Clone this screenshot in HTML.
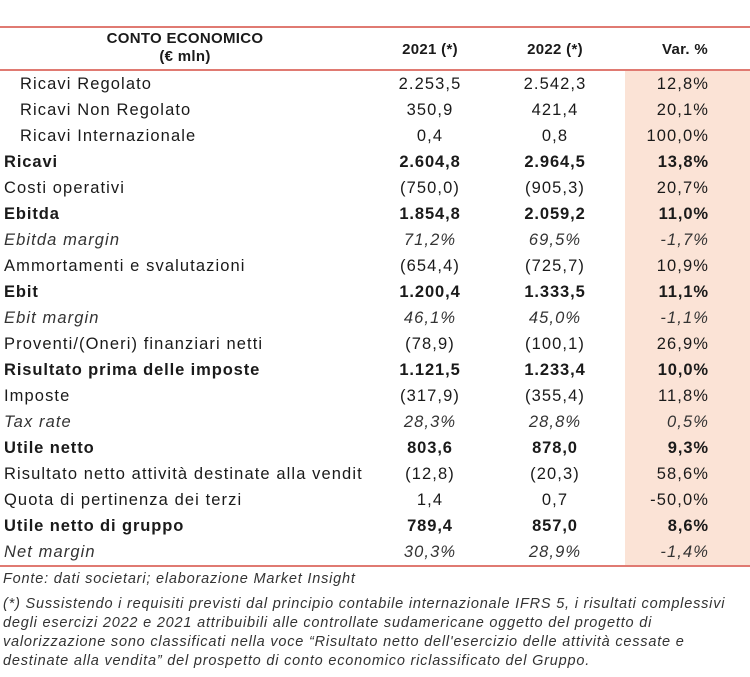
<!DOCTYPE html>
<html><head><meta charset="utf-8"><style>
body{margin:0;width:750px;height:677px;background:#fff;font-family:"Liberation Sans",sans-serif;color:#1a1a1a;position:relative;overflow:hidden}
.shade{position:absolute;left:625px;top:70px;width:125px;height:495px;background:#fbe3d6}
.line{position:absolute;left:0;width:750px;height:2px;background:#e07a72}
.hdr{position:absolute;top:30px;font-weight:bold;font-size:15px;text-align:center;letter-spacing:0.3px}
.row{position:absolute;left:0;width:750px;height:26px;font-size:16.5px;line-height:26px;letter-spacing:1.1px}
.row span{position:absolute;top:0;white-space:nowrap}
.l{left:4px}.l.ind{left:20px}
.c1{left:380px;width:100px;text-align:center}
.c2{left:505px;width:100px;text-align:center}
.c3{right:41px;text-align:right}
.b{font-weight:bold;letter-spacing:0.9px}.i{font-style:italic;color:#333}
.foot{position:absolute;left:3px;font-style:italic;font-size:14.5px;color:#333;line-height:19px;letter-spacing:0.8px;white-space:nowrap}
</style></head><body>
<div class="shade"></div>
<div class="line" style="top:26px"></div>
<div class="line" style="top:69px"></div>
<div class="line" style="top:565px"></div>
<div class="hdr" style="left:60px;width:250px;line-height:18px">CONTO ECONOMICO<br>(€ mln)</div>
<div class="hdr" style="left:380px;width:100px;top:41px">2021 (*)</div>
<div class="hdr" style="left:505px;width:100px;top:41px">2022 (*)</div>
<div class="hdr" style="left:640px;width:90px;top:41px">Var. %</div>
<div id="rows"></div>
<div class="foot" style="top:570px">Fonte: dati societari; elaborazione Market Insight</div>
<div class="foot" style="top:595px">(*) Sussistendo i requisiti previsti dal principio contabile internazionale IFRS 5, i risultati complessivi<br>degli esercizi 2022 e 2021 attribuibili alle controllate sudamericane oggetto del progetto di<br>valorizzazione sono classificati nella voce “Risultato netto dell'esercizio delle attività cessate e<br>destinate alla vendita” del prospetto di conto economico riclassificato del Gruppo.</div>
<script>
const labels=["Ricavi Regolato","Ricavi Non Regolato","Ricavi Internazionale","Ricavi","Costi operativi","Ebitda","Ebitda margin","Ammortamenti e svalutazioni","Ebit","Ebit margin","Proventi/(Oneri) finanziari netti","Risultato prima delle imposte","Imposte","Tax rate","Utile netto","Risultato netto attività destinate alla vendit","Quota di pertinenza dei terzi","Utile netto di gruppo","Net margin"];
const v2021=["2.253,5","350,9","0,4","2.604,8","(750,0)","1.854,8","71,2%","(654,4)","1.200,4","46,1%","(78,9)","1.121,5","(317,9)","28,3%","803,6","(12,8)","1,4","789,4","30,3%"];
const v2022=["2.542,3","421,4","0,8","2.964,5","(905,3)","2.059,2","69,5%","(725,7)","1.333,5","45,0%","(100,1)","1.233,4","(355,4)","28,8%","878,0","(20,3)","0,7","857,0","28,9%"];
const vVar=["12,8%","20,1%","100,0%","13,8%","20,7%","11,0%","-1,7%","10,9%","11,1%","-1,1%","26,9%","10,0%","11,8%","0,5%","9,3%","58,6%","-50,0%","8,6%","-1,4%"];
const styles=["ind","ind","ind","b","","b","i","","b","i","","b","","i","b","","","b","i"];
const root=document.getElementById('rows');
labels.forEach((t,k)=>{
  const r=document.createElement('div');
  r.className='row '+(styles[k]==='b'?'b':styles[k]==='i'?'i':'');
  r.style.top=(71+k*26)+'px';
  
  
  const cells=[['l'+(styles[k]==='ind'?' ind':''),t],['c1',v2021[k]],['c2',v2022[k]],['c3',vVar[k]]];
  cells.forEach(([c,txt])=>{const s=document.createElement('span');s.className=c;s.textContent=txt;
    
    
    r.appendChild(s);});
  root.appendChild(r);
});
</script>
</body></html>
